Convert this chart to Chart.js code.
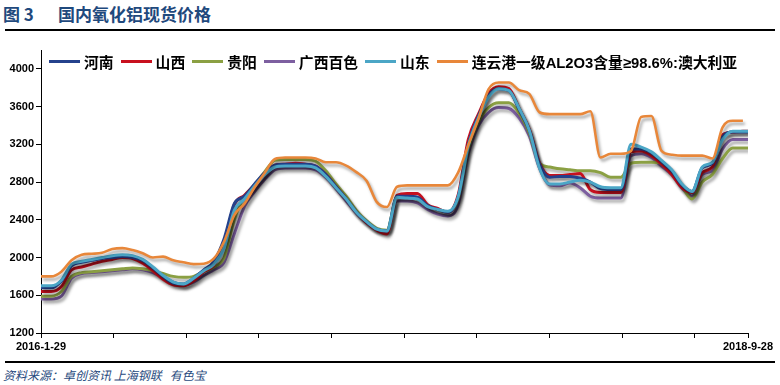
<!DOCTYPE html>
<html>
<head>
<meta charset="utf-8">
<script src="https://cdn.jsdelivr.net/npm/chart.js@4.4.1/dist/chart.umd.min.js"></script>
<style>
  body { margin: 0; background: #fff; width: 780px; height: 385px; position: relative; overflow: hidden;
         font-family: "Liberation Sans", "Noto Sans CJK SC", sans-serif; }
  .title { position: absolute; top: 1px; font-size: 17px; font-weight: bold; color: #1F497D;
           font-family: "Noto Sans CJK SC", sans-serif; white-space: pre; }
  .rule { position: absolute; left: 5px; width: 770px; background: #000; }
  .source { position: absolute; left: 3px; top: 366px; font-size: 12px; font-style: italic; color: #1F497D;
            font-family: "Noto Sans CJK SC", sans-serif; white-space: pre; }
  #wrap { position: absolute; left: 0; top: 35px; width: 780px; height: 325px; }
  #legend { position: absolute; left: 49px; top: 52px; height: 18px; display: flex; align-items: center;
            font-size: 14.8px; font-weight: bold; color: #000; white-space: nowrap; }
  #legend .item { display: flex; align-items: center; margin-right: 7px; }
  #legend .swatch { width: 31px; height: 3px; margin-right: 4px; }
</style>
</head>
<body>
<div class="title" style="left:3px">图 3</div>
<div class="title" style="left:58px">国内氧化铝现货价格</div>
<div class="rule" style="top:29px;height:2px"></div>
<div id="wrap"><canvas id="priceChart"></canvas></div>
<div id="legend"></div>
<div class="rule" style="top:361px;height:2px"></div>
<div class="source">资料来源：卓创资讯 上海钢联   有色宝</div>
<script>
// 周序号（自 2016-1-29 起），每两周取一个点
const weeks = [0, 2, 4, 6, 8, 10, 12, 14, 16, 18,
  20, 22, 24, 26, 28, 30, 32, 34, 36, 38,
  40, 42, 44, 46, 48, 50, 52, 54, 56, 58,
  60, 62, 64, 66, 68, 70, 72, 74, 76, 78,
  80, 82, 84, 86, 88, 90, 92, 94, 96, 98,
  100, 102, 104, 106, 108, 110, 112, 114, 116, 118,
  120, 122, 124, 126, 128, 130, 132, 134, 136, 138,
  139];

const henan = [1680, 1680, 1750, 1910, 1950, 1970, 1990, 2000, 2010, 2000,
  1970, 1890, 1800, 1730, 1720, 1780, 1870, 1960, 2200, 2570,
  2650, 2780, 2900, 2980, 2990, 2990, 2990, 2970, 2880, 2750,
  2620, 2480, 2380, 2300, 2280, 2650, 2650, 2640, 2550, 2510,
  2480, 2640, 3200, 3500, 3720, 3790, 3770, 3570, 3350, 2990,
  2850, 2860, 2860, 2840, 2800, 2730, 2720, 2720, 3150, 3150,
  3110, 3020, 2920, 2770, 2700, 2950, 3000, 3280, 3330, 3330,
  3330];

const shanxi = [1640, 1640, 1690, 1870, 1900, 1930, 1960, 1980, 2000, 1990,
  1940, 1860, 1770, 1710, 1700, 1750, 1850, 1920, 2150, 2560,
  2660, 2770, 2890, 2980, 2990, 3000, 2990, 2970, 2880, 2750,
  2620, 2480, 2370, 2290, 2250, 2660, 2680, 2680, 2560, 2520,
  2480, 2660, 3250, 3520, 3740, 3810, 3790, 3580, 3360, 3000,
  2870, 2870, 2880, 2890, 2720, 2690, 2690, 2690, 3120, 3130,
  3080, 2990, 2880, 2740, 2690, 2900, 2960, 3300, 3330, 3340,
  3340];

const guiyang = [1590, 1590, 1640, 1800, 1840, 1850, 1860, 1870, 1880, 1890,
  1880, 1860, 1830, 1800, 1790, 1800, 1850, 1900, 2000, 2400,
  2650, 2770, 2910, 3030, 3040, 3040, 3040, 3020, 2920, 2780,
  2650, 2500, 2390, 2310, 2290, 2640, 2640, 2620, 2550, 2510,
  2480, 2620, 3150, 3440, 3590, 3640, 3640, 3530, 3320, 3000,
  2960, 2940, 2930, 2920, 2920, 2900, 2850, 2850, 3000, 3010,
  3010, 3000, 2920, 2760, 2620, 2800, 2880, 3050, 3160, 3160,
  3160];

const guangxi = [1560, 1560, 1590, 1780, 1830, 1840, 1850, 1860, 1870, 1880,
  1870, 1840, 1790, 1740, 1710, 1740, 1810, 1870, 1950, 2250,
  2540, 2700, 2830, 2930, 2950, 2950, 2950, 2930, 2850, 2730,
  2600, 2470, 2370, 2300, 2280, 2600, 2600, 2580, 2510, 2460,
  2440, 2560, 3100, 3400, 3540, 3590, 3580, 3480, 3290, 2950,
  2770, 2760, 2790, 2740, 2650, 2630, 2630, 2630, 3080, 3100,
  3060, 2970, 2880, 2740, 2650, 2880, 2920, 3150, 3250, 3250,
  3250];

const shandong = [1700, 1700, 1760, 1930, 1960, 1980, 2000, 2020, 2030, 2020,
  1980, 1900, 1810, 1740, 1720, 1780, 1860, 1930, 2100, 2500,
  2620, 2760, 2880, 2960, 2970, 2970, 2970, 2950, 2860, 2740,
  2620, 2480, 2380, 2300, 2280, 2640, 2630, 2620, 2540, 2510,
  2490, 2640, 3180, 3480, 3700, 3790, 3770, 3580, 3350, 2950,
  2780, 2780, 2800, 2820, 2800, 2750, 2740, 2740, 3200, 3170,
  3120, 3030, 2930, 2780, 2700, 2960, 3010, 3250, 3340, 3340,
  3340];

const lianyungang = [1800, 1800, 1850, 1970, 2030, 2040, 2050, 2090, 2100, 2080,
  2045, 2000, 2010, 1970, 1950, 1930, 1935, 1990, 2170, 2450,
  2570, 2745, 2900, 3045, 3060, 3060, 3060, 3050, 3010, 3010,
  2975, 2905, 2815, 2590, 2535, 2750, 2765, 2765, 2765, 2765,
  2765, 2900, 3190, 3470, 3785, 3855, 3855, 3775, 3735, 3540,
  3520, 3520, 3520, 3520, 3550, 3060, 3100, 3100, 3130, 3490,
  3500, 3130, 3090, 3080, 3080, 3080, 3050, 3380, 3450, 3450,
  null];

const seriesNames = ['河南', '山西', '贵阳', '广西百色', '山东', '连云港一级AL2O3含量≥98.6%:澳大利亚'];
const seriesColors = ['#24418C', '#C8101E', '#8BA043', '#7D5FA0', '#4BA6C6', '#E8873A'];
const yTicks = [1200, 1600, 2000, 2400, 2800, 3200, 3600, 4000];
const xTickDays = [0, 100, 200, 300, 400, 500, 600, 700, 800, 900, 973];
const xLabels = { 0: '2016-1-29', 973: '2018-9-28' };

const allSeries = [henan, shanxi, guiyang, guangxi, shandong, lianyungang];
const drawOrder = [2, 3, 4, 5, 1, 0]; // 小的画在上面

const datasets = allSeries.map((vals, i) => ({
  label: seriesNames[i],
  data: vals.map((v, k) => ({ x: weeks[k] * 7, y: v })),
  borderColor: seriesColors[i],
  backgroundColor: seriesColors[i],
  borderWidth: i === 5 ? 2.6 : 3,
  pointRadius: 0,
  cubicInterpolationMode: 'monotone',
  order: drawOrder[i],
  spanGaps: false
}));

// 图例（放在绘图区里面）
const legendBox = document.getElementById('legend');
seriesNames.forEach((name, i) => {
  const item = document.createElement('div');
  item.className = 'item';
  const sw = document.createElement('span');
  sw.className = 'swatch';
  sw.style.background = seriesColors[i];
  const txt = document.createElement('span');
  txt.textContent = name;
  item.appendChild(sw);
  item.appendChild(txt);
  legendBox.appendChild(item);
});

// 线条阴影
const lineShadow = {
  id: 'lineShadow',
  beforeDatasetDraw(chart) {
    const c = chart.ctx;
    c.save();
    c.shadowColor = 'rgba(0,0,0,0.35)';
    c.shadowBlur = 3;
    c.shadowOffsetX = 2;
    c.shadowOffsetY = 3;
  },
  afterDatasetDraw(chart) {
    chart.ctx.restore();
  }
};

const ctx = document.getElementById('priceChart').getContext('2d');
new Chart(ctx, {
  type: 'line',
  data: { datasets },
  plugins: [lineShadow],
  options: {
    responsive: true,
    maintainAspectRatio: false,
    animation: false,
    layout: { padding: { top: 15, right: 32, bottom: 5, left: 0 } },
    plugins: {
      tooltip: { enabled: false },
      legend: { display: false }
    },
    scales: {
      x: {
        type: 'linear',
        min: 0,
        max: 973,
        afterBuildTicks(axis) {
          axis.ticks = xTickDays.map(v => ({ value: v }));
        },
        afterFit(axis) { axis.height = 22; },
        grid: { drawOnChartArea: false, drawTicks: true, tickLength: 5, color: '#000' },
        border: { display: true, color: '#000', width: 1 },
        ticks: {
          autoSkip: false,
          maxRotation: 0,
          padding: 2,
          color: '#000',
          font: { family: '"Liberation Sans", sans-serif', size: 11, weight: 'bold' },
          callback: v => xLabels[v] || ''
        }
      },
      y: {
        min: 1200,
        max: 4200,
        afterBuildTicks(axis) {
          axis.ticks = yTicks.map(v => ({ value: v }));
        },
        afterFit(axis) { axis.width = 41; },
        grid: { drawOnChartArea: false, drawTicks: true, tickLength: 5, color: '#000' },
        border: { display: true, color: '#000', width: 1 },
        ticks: {
          padding: 2,
          color: '#000',
          font: { family: '"Liberation Sans", sans-serif', size: 11, weight: 'bold' },
          callback: v => String(v)
        }
      }
    }
  }
});
</script>
</body>
</html>
